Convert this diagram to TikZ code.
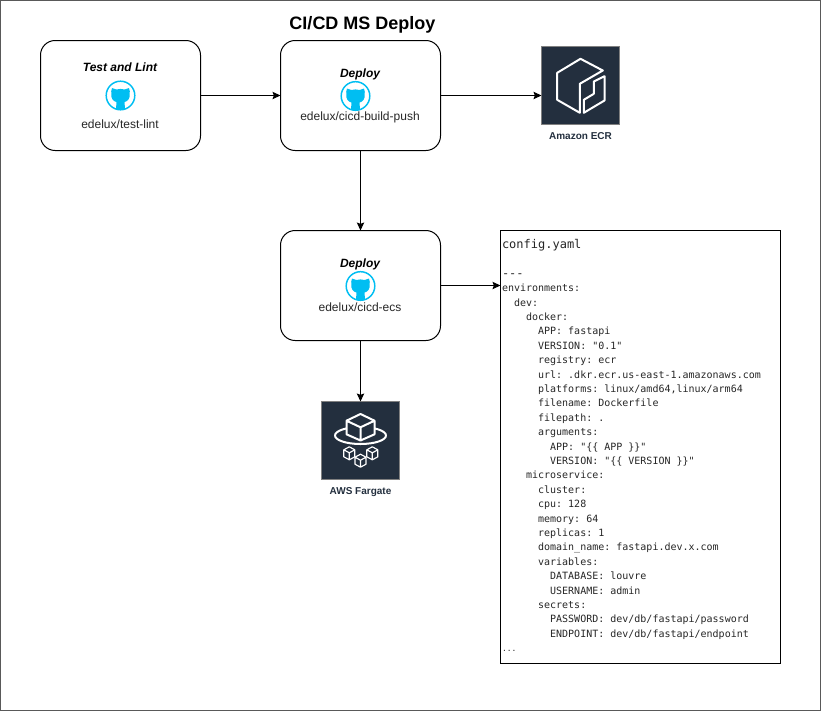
\documentclass[tikz,border=0pt]{standalone}
\usepackage{fontspec}
\setmainfont{Liberation Sans}
\setmonofont{DejaVu Sans Mono}
\usetikzlibrary{arrows.meta,positioning,shapes}
\definecolor{awsdark}{HTML}{232F3E}
\definecolor{gitblue}{HTML}{00BEF2}
\tikzset{
  octocat/.pic={
    \draw[gitblue, line width=1.1pt] (0,0) circle (14.3);
    \fill[gitblue] (-8.5,-7.5) -- (-4,-6) .. controls (-1.5,-6.8) and (1.5,-6.8) .. (4,-6) -- (8.5,-7.5)
      .. controls (9.5,-5) and (9.5,-3) .. (9,-2) .. controls (10,3) and (7,6) .. (4,6.5)
      -- (4.5,13.5) .. controls (2,14.3) and (-2,14.3) .. (-4.5,13.5) -- (-4,6.5)
      .. controls (-7,6) and (-10,3) .. (-9,-2) .. controls (-9.5,-3) and (-9.5,-5) .. (-8.5,-7.5) -- cycle;
  },
  minicube/.pic={
    \draw[white, line width=0.85pt, line join=round] (0,-6.5) -- (5.5,-3.5) -- (5.5,3.5) -- (0,6.5)
      -- (-5.5,3.5) -- (-5.5,-3.5) -- cycle
      (-5.5,-3.5) -- (0,-0.5) -- (5.5,-3.5) (0,-0.5) -- (0,6.5);
  }
}
\begin{document}
\begin{tikzpicture}[x=0.75pt, y=-0.75pt, line width=0.75pt, >={Stealth[length=6pt,width=5.5pt,inset=1pt]}]
	\tikzstyle{job}
	  =[draw, rectangle, rounded corners=11pt, minimum width=120pt,
	  minimum height=82.5pt, inner sep=0pt, outer sep=0pt]
	\tikzstyle{awsicon}
	  =[draw=gray, fill=awsdark, rectangle, minimum width=58.5pt,
	  minimum height=58.5pt, inner sep=0pt, outer sep=0pt]
	\tikzstyle{jobtitle}
	  =[font=\fontsize{9}{11}\selectfont\bfseries\itshape, inner sep=0pt]
	\tikzstyle{jobname}
	  =[font=\fontsize{9}{11}\selectfont, text=black!85, inner sep=0pt]
	\tikzstyle{awsname}
	  =[font=\fontsize{7.5}{9}\selectfont\bfseries, text=awsdark, inner sep=0pt]
	\tikzstyle{iconline}
	  =[white, line width=1.5pt, line join=round]

	\useasboundingbox (0,0) rectangle (821,711);
	\node[draw=black!65, rectangle, minimum width=615pt, minimum height=532.5pt,
	  inner sep=0pt] (frame) at (410.5,355.5) {};

	\node[font=\fontsize{13.5}{16}\selectfont\bfseries, inner sep=0pt] (title)
	  at (362.5,25) {CI/CD MS Deploy};

	\node[job] (lint) at (120.5,95.5) {};
	\node[job] (build) [right=60pt of lint] {};
	\node[job] (ecs) [below=60pt of build] {};
	\node[awsicon] (ecr) at (580.5,85.5) {};
	\node[awsicon] (fargate) at (360.5,440.5) {};
	\node[draw, rectangle, minimum width=210pt, minimum height=325pt, inner sep=0pt,
	  outer sep=0pt] (config) at (640.5,447) {};

	% job texts
	\node[jobtitle] (linttitle) at (120,67.5) {Test and Lint};
	\pic at (120.5,95.5) {octocat};
	\node[jobname] (lintname) at (120,124) {edelux/test-lint};
	\node[jobtitle] (buildtitle) at (360,74.5) {Deploy};
	\pic at (355.5,96) {octocat};
	\node[jobname] (buildname) at (360,117) {edelux/cicd-build-push};
	\node[jobtitle] (ecstitle) at (360,264.5) {Deploy};
	\pic at (360.5,286) {octocat};
	\node[jobname] (ecsname) at (360,307) {edelux/cicd-ecs};

	% ecr
	\draw[iconline] (580.5,58.8) -- (602.8,70.5) -- (579.8,83.8) -- (579.8,112.8)
	  -- (557.2,99.8) -- (557.2,72.8) -- cycle;
	\draw[iconline] (593.8,81.5) -- (604.5,76.2) -- (604.5,100.5) -- (583.8,112.8)
	  -- (583.8,99.8) -- (593.8,93.8) -- cycle;
	\node[awsname] (ecrname) [below=5.5pt of ecr] {Amazon ECR};

	% fargate
	\draw[iconline] (360.5,435.5) ellipse (25.5 and 8.5);
	\draw[iconline, fill=awsdark] (360.5,414) -- (374.5,420.7) -- (374.5,434.3) -- (360.5,440.5)
	  -- (346.5,434.3) -- (346.5,420.7) -- cycle
	  (346.5,420.7) -- (360.5,427.3) -- (374.5,420.7) (360.5,427.3) -- (360.5,440.5);
	\pic at (349.3,453.3) {minicube};
	\pic at (360.5,460.7) {minicube};
	\pic at (372.3,453.3) {minicube};
	\node[awsname] (fargatename) [below=5.5pt of fargate] {AWS Fargate};

	% config file
	\node[font=\fontsize{7.5}{10.8}\selectfont\ttfamily, align=left, anchor=north west,
	  inner sep=0pt, text=black!85] (yaml) at (501.5,238.8)
	  {{\fontsize{9}{10.8}\selectfont config.yaml}\\
	  \\
	  {\fontsize{9}{10.8}\selectfont ---}\\
	  environments:\\
	  ~~dev:\\
	  ~~~~docker:\\
	  ~~~~~~APP: fastapi\\
	  ~~~~~~VERSION: "0.1"\\
	  ~~~~~~registry: ecr\\
	  ~~~~~~url: .dkr.ecr.us-east-1.amazonaws.com\\
	  ~~~~~~platforms: linux/amd64,linux/arm64\\
	  ~~~~~~filename: Dockerfile\\
	  ~~~~~~filepath: .\\
	  ~~~~~~arguments:\\
	  ~~~~~~~~APP: "\{\{ APP \}\}"\\
	  ~~~~~~~~VERSION: "\{\{ VERSION \}\}"\\
	  ~~~~microservice:\\
	  ~~~~~~cluster:\\
	  ~~~~~~cpu: 128\\
	  ~~~~~~memory: 64\\
	  ~~~~~~replicas: 1\\
	  ~~~~~~domain\_name: fastapi.dev.x.com\\
	  ~~~~~~variables:\\
	  ~~~~~~~~DATABASE: louvre\\
	  ~~~~~~~~USERNAME: admin\\
	  ~~~~~~secrets:\\
	  ~~~~~~~~PASSWORD: dev/db/fastapi/password\\
	  ~~~~~~~~ENDPOINT: dev/db/fastapi/endpoint\\
	  {\fontsize{6}{10.8}\selectfont ...}};

	\draw[->] (lint) -- (build);
	\draw[->] (build) -- (build -| ecr.west);
	\draw[->] (build) -- (ecs);
	\draw[->] (ecs) -- (ecs -| config.west);
	\draw[->] (ecs) -- (fargate);
\end{tikzpicture}
\end{document}
